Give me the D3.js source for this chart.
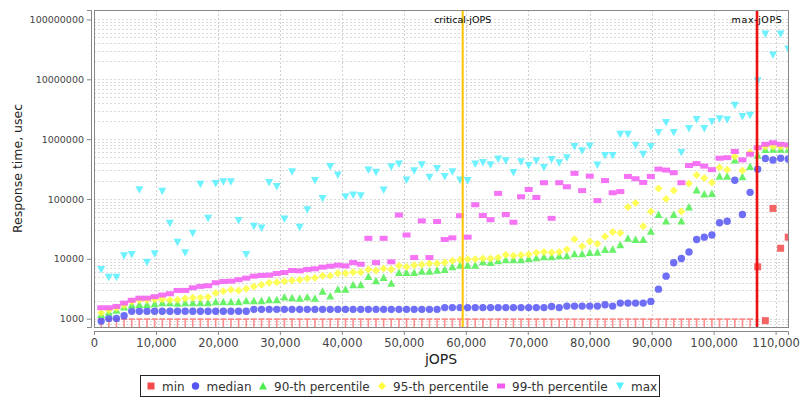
<!DOCTYPE html>
<html lang="en">
<head>
<meta charset="UTF-8">
<title>Response time vs jOPS</title>
<script src="https://d3js.org/d3.v7.min.js"></script>
<style>
  body, html { margin: 0; padding: 0; background: #fff; }
  text { font-family: "DejaVu Sans", sans-serif; fill: #444; }
</style>
</head>
<body>
<div id="chart"></div>
<script>
// x positions of the RT-curve steps (jOPS)
const jops = [1160, 2392, 3624, 4856, 6088, 7320, 8552, 9784, 11016, 12248,
  13480, 14712, 15944, 17176, 18408, 19640, 20872, 22104, 23336, 24568,
  25800, 27032, 28264, 29496, 30728, 31960, 33192, 34424, 35656, 36888,
  38120, 39352, 40584, 41816, 43048, 44280, 45512, 46744, 47976, 49208,
  50440, 51672, 52904, 54136, 55368, 56600, 57832, 59064, 60296, 61528,
  62760, 63992, 65224, 66456, 67688, 68920, 70152, 71384, 72616, 73848,
  75080, 76312, 77544, 78776, 80008, 81240, 82472, 83704, 84936, 86168,
  87400, 88632, 89864, 91096, 92328, 93560, 94792, 96024, 97256, 98488,
  99720, 100952, 102184, 103416, 104648, 105880, 107112, 108344, 109576, 110808,
  112040];

const minVals = [1000, 1000, 1000, 1000, 1000, 1000, 1000, 1000, 1000, 1000,
  1000, 1000, 1000, 1000, 1000, 1000, 1000, 1000, 1000, 1000,
  1000, 1000, 1000, 1000, 1000, 1000, 1000, 1000, 1000, 1000,
  1000, 1000, 1000, 1000, 1000, 1000, 1000, 1000, 1000, 1000,
  1000, 1000, 1000, 1000, 1000, 1000, 1000, 1000, 1000, 1000,
  1000, 1000, 1000, 1000, 1000, 1000, 1000, 1000, 1000, 1000,
  1000, 1000, 1000, 1000, 1000, 1000, 1000, 1000, 1000, 1000,
  1000, 1000, 1000, 1000, 1000, 1000, 1000, 1000, 1000, 1000,
  1000, 1000, 1000, 1000, 1000, 1000, 7350, 926, 69600, 15000,
  23000];

const medianVals = [910, 1010, 1010, 1120, 1330, 1330, 1330, 1330, 1330, 1330,
  1330, 1330, 1330, 1330, 1330, 1330, 1330, 1330, 1330, 1330,
  1430, 1430, 1430, 1430, 1430, 1430, 1430, 1430, 1430, 1430,
  1430, 1430, 1430, 1430, 1430, 1430, 1430, 1430, 1430, 1430,
  1430, 1430, 1430, 1430, 1430, 1530, 1530, 1530, 1530, 1530,
  1530, 1530, 1530, 1530, 1530, 1530, 1530, 1530, 1530, 1600,
  1530, 1620, 1620, 1620, 1620, 1620, 1710, 1620, 1820, 1820,
  1820, 1820, 1940, 3110, 5130, 8580, 10100, 13000, 21000, 23000,
  25000, 40000, 42500, 205000, 55000, 129000, 315000, 475000, 447000, 480000,
  465000];

const p90Vals = [1170, 1290, 1380, 1560, 1710, 1730, 1730, 1780, 1850, 1850,
  1800, 1850, 1850, 1850, 1850, 1920, 1920, 1920, 1920, 1990,
  1990, 1990, 2070, 2070, 2290, 2230, 2200, 2290, 2200, 2880,
  2380, 3110, 3110, 3690, 3690, 5070, 4290, 4880, 3920, 5900,
  5900, 5900, 6210, 6210, 6460, 6640, 7350, 7810, 7810, 7810,
  8900, 8700, 9270, 9600, 9600, 9600, 10100, 10400, 10800, 10800,
  11200, 11200, 12100, 12100, 12700, 12900, 14300, 14500, 17100, 22000,
  21000, 21000, 28800, 54800, 43000, 54800, 43000, 73500, 141000, 121000,
  124000, 240000, 240000, 447000, 235000, 350000, 540000, 670000, 680000, 680000,
  680000];

const p95Vals = [1260, 1375, 1500, 1670, 1940, 2040, 2040, 2100, 2100, 2040,
  2060, 2180, 2230, 2230, 2290, 2670, 2880, 3040, 2960, 3160,
  3460, 3690, 3980, 4070, 4230, 4350, 4470, 4700, 4820, 5200,
  5200, 5760, 5760, 5980, 5980, 6640, 6380, 6890, 6640, 7630,
  7350, 7810, 8020, 8330, 8330, 8660, 9270, 9600, 9840, 9840,
  10100, 10100, 10500, 11700, 11200, 11600, 11800, 12600, 13000, 12800,
  13000, 14300, 21200, 16200, 19400, 17800, 23500, 28100, 27000, 73500,
  86000, 35000, 62000, 150000, 100000, 138000, 62000, 182000, 251000, 224000,
  189000, 336000, 309000, 515000, 300000, 598000, 720000, 754000, 754000, 754000,
  754000];

const p99Vals = [1520, 1520, 1600, 1820, 2020, 2200, 2200, 2330, 2480, 2610,
  2960, 2960, 3280, 3460, 3550, 3980, 4180, 4230, 4470, 4750,
  5130, 5270, 5340, 5690, 5900, 6380, 6300, 6640, 6810, 7250,
  7530, 7810, 7630, 8660, 8120, 22000, 8660, 22000, 8900, 54000,
  25000, 10500, 43000, 10500, 42000, 21000, 22400, 52500, 23000, 80000,
  53000, 45000, 124000, 55000, 41000, 109000, 144000, 106000, 187000, 47500,
  187000, 160000, 268000, 138000, 241000, 94000, 203000, 127000, 133000, 238000,
  218000, 189000, 238000, 316000, 304000, 275000, 187000, 363000, 390000, 354000,
  309000, 480000, 490000, 622000, 450000, 560000, 720000, 820000, 870000, 820000,
  800000];

const maxVals = [6640, 4940, 4940, 11300, 11800, 143000, 8800, 12100, 134000, 39300,
  18900, 12600, 26800, 176000, 47500, 182000, 194000, 194000, 43500, 11800,
  35000, 32800, 189000, 162000, 46400, 285000, 33700, 66000, 203000, 102000,
  350000, 251000, 109000, 116000, 113000, 304000, 280000, 141000, 347000, 384000,
  207000, 295000, 372000, 230000, 324000, 238000, 285000, 207000, 203000, 384000,
  408000, 372000, 466000, 436000, 277000, 420000, 363000, 436000, 336000, 458000,
  403000, 490000, 750000, 640000, 770000, 368000, 535000, 535000, 1210000, 1210000,
  790000, 560000, 750000, 1290000, 1890000, 1290000, 600000, 1500000, 2130000, 1500000,
  1970000, 2200000, 2100000, 3700000, 2400000, 2500000, 9500000, 57000000, 25600000, 57000000,
  32000000];

const seriesNames = ["min", "median", "90-th percentile", "95-th percentile", "99-th percentile", "max"];
const seriesColors = ["#f44a4a", "#5555f5", "#4fee4f", "#ffff3c", "#f35af3", "#55f0ff"];

const yTicks = [1000, 10000, 100000, 1000000, 10000000, 100000000];
const xTicks = [0, 10000, 20000, 30000, 40000, 50000, 60000, 70000, 80000, 90000, 100000, 110000];

const criticalJops = 59500;
const maxJops = 107000;

const width = 800, height = 400;
const plot = { left: 94, right: 788, top: 10, bottom: 327 };

const svg = d3.select("#chart").append("svg")
  .attr("width", width).attr("height", height);

svg.append("rect").attr("width", width).attr("height", height).attr("fill", "#fff");

const x = d3.scaleLinear().domain([0, 112000]).range([plot.left, plot.right]);
const y = d3.scaleLog().domain([725, 1.44e8]).range([plot.bottom, plot.top]);

// gridlines
const grid = svg.append("g").attr("class", "grid");
const minorVals = [];
for (let d = 100; d <= 1e8; d *= 10) {
  for (let m = 1; m <= 9; m++) {
    const v = d * m;
    if (v >= 725 && v <= 1.44e8) minorVals.push(v);
  }
}
grid.selectAll(".hgrid").data(minorVals).join("line")
  .attr("x1", plot.left).attr("x2", plot.right)
  .attr("y1", d => Math.round(y(d)) + 0.5).attr("y2", d => Math.round(y(d)) + 0.5)
  .attr("stroke", "#d9d9d9").attr("stroke-width", 1).attr("stroke-dasharray", "2,2");
grid.selectAll(".vgrid").data(xTicks.slice(1)).join("line")
  .attr("y1", plot.top).attr("y2", plot.bottom)
  .attr("x1", d => Math.round(x(d)) + 0.5).attr("x2", d => Math.round(x(d)) + 0.5)
  .attr("stroke", "#d0d0d0").attr("stroke-width", 1).attr("stroke-dasharray", "2,2");

// clip for markers
svg.append("clipPath").attr("id", "clip").append("rect")
  .attr("x", plot.left).attr("y", plot.top)
  .attr("width", plot.right - plot.left).attr("height", plot.bottom - plot.top);

const marks = svg.append("g").attr("clip-path", "url(#clip)");

const shapes = [
  // min: square
  (cx, cy) => `M${cx - 3.5},${cy - 3.5}h7v7h-7z`,
  // median: circle
  (cx, cy) => `M${cx - 3.7},${cy}a3.7,3.7 0 1,0 7.4,0a3.7,3.7 0 1,0 -7.4,0z`,
  // 90th: up triangle
  (cx, cy) => `M${cx},${cy - 4}L${cx + 4},${cy + 3.5}L${cx - 4},${cy + 3.5}z`,
  // 95th: diamond
  (cx, cy) => `M${cx},${cy - 4}L${cx + 4},${cy}L${cx},${cy + 4}L${cx - 4},${cy}z`,
  // 99th: flat rectangle
  (cx, cy) => `M${cx - 4},${cy - 2.5}h8v5h-8z`,
  // max: down triangle
  (cx, cy) => `M${cx - 4},${cy - 3.5}L${cx + 4},${cy - 3.5}L${cx},${cy + 4}z`
];

const allSeries = [minVals, medianVals, p90Vals, p95Vals, p99Vals, maxVals];

// min values sitting on the 1000 floor are drawn as small "T" ticks
const isFloor = v => v === 1000;
const minFloor = jops.map((j, i) => ({ j, v: minVals[i] })).filter(d => isFloor(d.v));
marks.selectAll(".minT").data(minFloor).join("path")
  .attr("d", d => {
    const cx = x(d.j), cy = y(d.v);
    return `M${cx - 3},${cy + 0.5}h6M${cx},${cy}V${plot.bottom}`;
  })
  .attr("stroke", "#ff7a7a").attr("stroke-opacity", 0.85).attr("stroke-width", 1.6).attr("fill", "none");

allSeries.forEach((vals, si) => {
  const pts = jops.map((j, i) => ({ j, v: vals[i] }))
    .filter(d => si !== 0 || !isFloor(d.v));
  marks.append("g").selectAll("path").data(pts).join("path")
    .attr("d", d => shapes[si](x(d.j), y(d.v)))
    .attr("fill", seriesColors[si])
    .attr("fill-opacity", 0.85);
});

// critical / max jOPS markers
svg.append("line")
  .attr("x1", x(criticalJops)).attr("x2", x(criticalJops))
  .attr("y1", plot.top).attr("y2", plot.bottom)
  .attr("stroke", "#ffc400").attr("stroke-width", 2);
svg.append("line")
  .attr("x1", x(maxJops)).attr("x2", x(maxJops))
  .attr("y1", plot.top).attr("y2", plot.bottom)
  .attr("stroke", "#ee1111").attr("stroke-width", 2.6);
svg.append("text").attr("x", x(criticalJops)).attr("y", 23)
  .attr("text-anchor", "middle").style("font-size", "9.5px").style("fill", "#000")
  .text("critical-jOPS");
svg.append("text").attr("x", x(maxJops)).attr("y", 23)
  .attr("text-anchor", "middle").style("font-size", "9.5px").style("fill", "#000")
  .attr("letter-spacing", "0.6px")
  .text("max-jOPS");

// plot border
svg.append("rect")
  .attr("x", plot.left + 0.5).attr("y", plot.top + 0.5)
  .attr("width", plot.right - plot.left).attr("height", plot.bottom - plot.top)
  .attr("fill", "none").attr("stroke", "#888");

// axes
const yAxis = svg.append("g")
  .attr("transform", `translate(${plot.left - 3},0)`)
  .call(d3.axisLeft(y).tickValues(yTicks).tickFormat(d3.format("d")).tickSize(4).tickPadding(3));
yAxis.select(".domain").attr("stroke", "#888");
yAxis.selectAll(".tick line").attr("stroke", "#888");
yAxis.selectAll("text").style("font-size", "9.5px").style("font-family", "DejaVu Sans, sans-serif").attr("fill", "#444");

const xAxis = svg.append("g")
  .attr("transform", `translate(0,${plot.bottom + 4})`)
  .call(d3.axisBottom(x).tickValues(xTicks).tickFormat(d3.format(",")).tickSize(4).tickPadding(4));
xAxis.select(".domain").attr("stroke", "#888");
xAxis.selectAll(".tick line").attr("stroke", "#888");
xAxis.selectAll("text").style("font-size", "11.5px").style("font-family", "DejaVu Sans, sans-serif").attr("fill", "#444");

svg.append("text")
  .attr("transform", `translate(22,${(plot.top + plot.bottom) / 2}) rotate(-90)`)
  .attr("text-anchor", "middle").style("font-size", "12.5px").style("fill", "#222")
  .text("Response time, usec");
svg.append("text")
  .attr("x", (plot.left + plot.right) / 2).attr("y", 364)
  .attr("text-anchor", "middle").style("font-size", "14px").style("fill", "#222")
  .text("jOPS");

// legend
const legend = svg.append("g");
legend.append("rect").attr("x", 140.5).attr("y", 375.5).attr("width", 519).attr("height", 21)
  .attr("fill", "#fff").attr("stroke", "#222");
const legendX = [151, 195.5, 263, 382, 501, 620];
seriesNames.forEach((name, i) => {
  legend.append("path").attr("d", shapes[i](legendX[i], 386)).attr("fill", seriesColors[i]);
  legend.append("text").attr("x", legendX[i] + 11).attr("y", 390.5)
    .style("font-size", "12px").style("fill", "#333").text(name);
});
</script>
</body>
</html>
